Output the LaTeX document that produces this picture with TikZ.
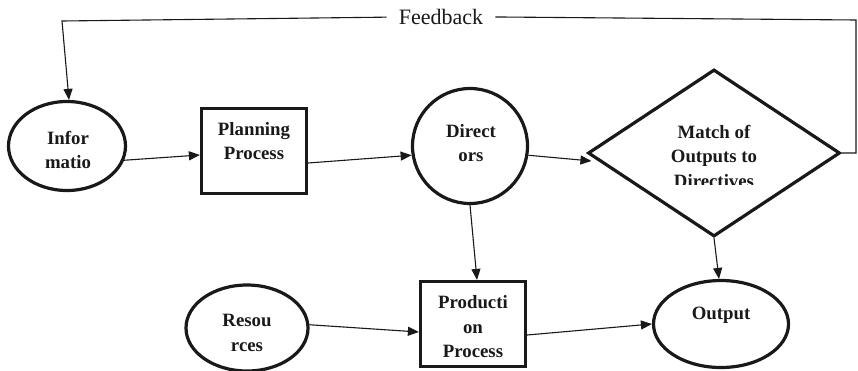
\documentclass[tikz,border=0pt]{standalone}
\usepackage{fontspec}
\setmainfont{Liberation Serif}
\usetikzlibrary{shapes.geometric,arrows.meta}
\begin{document}
\begin{tikzpicture}[x=1pt,y=-1pt,
  shp/.style={draw=black!90,line width=3.2pt,inner sep=0pt},
  lbl/.style={font=\fontsize{18.8}{24.5}\selectfont\bfseries,align=center,text=black!90,inner sep=0pt},
  conn/.style={draw=black!90,line width=1.1pt,-{Triangle[length=11pt,width=9pt]}},
  fb/.style={draw=black!90,line width=1.1pt}]
\useasboundingbox (0,0) rectangle (858,370);
% shapes
\node[shp,ellipse,minimum width=117pt,minimum height=89pt] (info) at (67,146) {};
\node[shp,rectangle,minimum width=105pt,minimum height=85pt] (plan) at (254,151) {};
\node[shp,circle,minimum size=115pt] (dir) at (470,146) {};
\node[shp,diamond,minimum width=252pt,minimum height=167pt] (diam) at (714,153) {};
\node[shp,rectangle,minimum width=105pt,minimum height=85pt] (prod) at (473,324) {};
\node[shp,ellipse,minimum width=122pt,minimum height=86pt] (res) at (247,328) {};
\node[shp,ellipse,minimum width=135pt,minimum height=87pt] (out) at (721,324) {};
% texts
\node[lbl] (tinfo) at (68,150) {Infor\\matio};
\node[lbl] (tplan) at (254,141) {Planning\\Process};
\node[lbl] (tdir) at (471,143) {Direct\\ors};
\begin{scope}
\clip (580,60) rectangle (850,184);
\node[lbl] (tdiam) at (714,156) {Match of\\Outputs to\\Directives};
\end{scope}
\node[lbl] (tprod) at (473,327) {Producti\\on\\Process};
\node[lbl] (tres) at (247,333) {Resou\\rces};
\node[lbl] (tout) at (721,315) {Output};
% connectors
\draw[conn] (info.-14) -- ([yshift=-4pt]plan.west);
\draw[conn] ([yshift=-12pt]plan.east) -- (dir.189);
\draw[conn] (dir.-9) -- ([xshift=5pt,yshift=-8pt]diam.west);
\draw[conn] (dir.south) -- ([xshift=4pt]prod.north);
\draw[conn] (diam.south) -- ([xshift=-2pt]out.north);
\draw[conn] (res.3) -- ([yshift=-8pt]prod.west);
\draw[conn] ([yshift=-11pt]prod.east) -- (out.west);
% feedback
\coordinate (fbr) at (856,153);
\coordinate (fbtr) at (856,20);
\coordinate (fbtl) at (62,21);
\node[font=\fontsize{22}{26}\selectfont,text=black!90,inner xsep=12pt,inner ysep=0pt] (fbtext) at (441,16.5) {Feedback};
\draw[fb] (diam.east) -- (fbr) -- (fbtr) -- (fbtext);
\draw[conn] (fbtext) -- (fbtl) -- ([xshift=2pt]info.north);
\end{tikzpicture}
\end{document}
